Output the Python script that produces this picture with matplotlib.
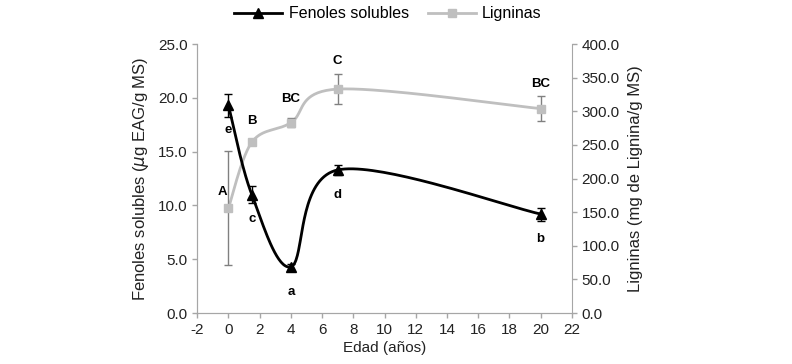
import numpy as np
import matplotlib
matplotlib.use("Agg")
import matplotlib.pyplot as plt

plt.rcParams['font.family'] = ['Liberation Sans', 'DejaVu Sans']
plt.rcParams['axes.unicode_minus'] = False

edad = [0, 1.5, 4, 7, 20]
fenoles = [19.3, 11.0, 4.3, 13.3, 9.2]
fenoles_err = [1.1, 0.8, 0.3, 0.5, 0.6]
fenoles_lbl = ['e', 'c', 'a', 'd', 'b']
ligninas = [156, 254, 283, 333, 304]
ligninas_err = [85, 4, 7, 22, 19]
ligninas_lbl = ['A', 'B', 'BC', 'C', 'BC']
xticks = list(range(-2, 23, 2))


def smooth(x, y, n=40):
    x = np.asarray(x, float); y = np.asarray(y, float)
    P = np.column_stack([x, y])
    out = [P[0]]
    for i in range(len(P) - 1):
        p0 = P[i - 1] if i > 0 else P[i]
        p1 = P[i]; p2 = P[i + 1]
        p3 = P[i + 2] if i + 2 < len(P) else P[i + 1]
        c1 = p1 + (p2 - p0) / 6.0
        c2 = p2 - (p3 - p1) / 6.0
        t = np.linspace(0, 1, n)[1:, None]
        seg = ((1 - t) ** 3) * p1 + 3 * ((1 - t) ** 2) * t * c1 + 3 * (1 - t) * t ** 2 * c2 + t ** 3 * p2
        out.extend(seg)
    out = np.array(out)
    return out[:, 0], out[:, 1]


fig = plt.figure(figsize=(7.92, 3.64), dpi=100)
ax = fig.add_axes([0.249, 0.140, 0.473, 0.739])
ax2 = ax.twinx()

grey = '#BFBFBF'
spine_c = '#A6A6A6'

# Ligninas (right axis)
sx, sy = smooth(edad, ligninas)
ax2.plot(sx, sy, color=grey, lw=2.0, zorder=2)
ax2.errorbar(edad, ligninas, yerr=ligninas_err, fmt='s', color=grey, ms=6,
             ecolor='#808080', elinewidth=1, capsize=3, zorder=3)

# Fenoles (left axis) drawn on top
sx, sy = smooth(edad, fenoles)
ax2.set_zorder(1)
ax.set_zorder(2)
ax.patch.set_visible(False)
ax.plot(sx, sy, color='black', lw=2.0, zorder=2)
ax.errorbar(edad, fenoles, yerr=fenoles_err, fmt='^', color='black', ms=7,
            ecolor='black', elinewidth=1, capsize=3, zorder=3)

ax.set_xlim(-2, 22)
ax.set_ylim(0, 25)
ax2.set_ylim(0, 400)
ax.set_xticks(xticks)
ax.set_xticklabels([str(v) for v in xticks])
ax.set_yticks(np.arange(0, 25.1, 5))
ax.set_yticklabels([f'{v:.1f}' for v in np.arange(0, 25.1, 5)])
ax2.set_yticks(np.arange(0, 401, 50))
ax2.set_yticklabels([f'{v:.1f}' for v in np.arange(0, 401, 50)])

for a in (ax, ax2):
    for s in a.spines.values():
        s.set_color(spine_c)
    a.spines['top'].set_visible(False)
    a.tick_params(colors=spine_c, labelcolor='#222222', labelsize=11, length=3.5, width=1)
ax.spines['right'].set_visible(False)

ax.set_xlabel('Edad (años)', fontsize=11, color='#222222', labelpad=3)
ax.set_ylabel('Fenoles solubles ($\\mu$g EAG/g MS)', fontsize=12, color='#222222', labelpad=5)
ax2.set_ylabel('Ligninas (mg de Lignina/g MS)', fontsize=12, color='#222222', labelpad=6)

# letters
for x, y, l in zip(edad, fenoles, fenoles_lbl):
    ax.text(x, y - 2.3, l, ha='center', va='center', fontsize=9.5, fontweight='bold')
l_off = [(-0.4, 24), (0, 32), (0, 35), (0, 42), (0, 37)]
for x, y, l, (dx, dy) in zip(edad, ligninas, ligninas_lbl, l_off):
    ax2.text(x + dx, y + dy, l, ha='center', va='center', fontsize=9.5, fontweight='bold')

# legend
from matplotlib.lines import Line2D
h1 = Line2D([], [], color='black', lw=2, marker='^', ms=7)
h2 = Line2D([], [], color=grey, lw=2, marker='s', ms=6)
fig.legend([h1, h2], ['Fenoles solubles', 'Ligninas'], loc='center', bbox_to_anchor=(0.49, 0.962),
           ncol=2, frameon=False, fontsize=11.5, handlelength=3, columnspacing=1.2, handletextpad=0.4)

fig.savefig('out.png', dpi=100)
